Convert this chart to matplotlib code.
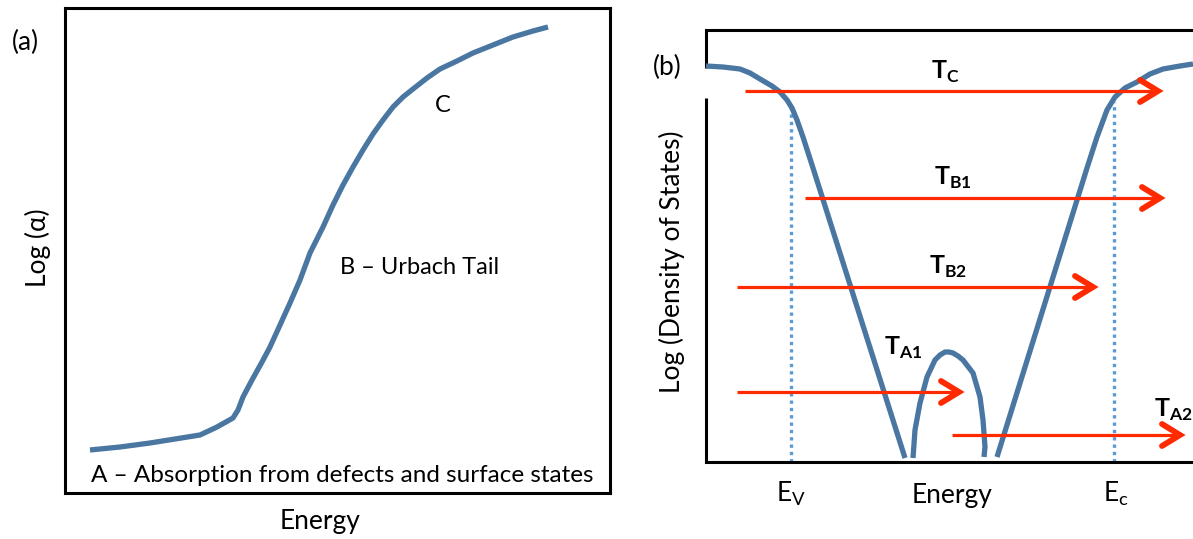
import numpy as np
import matplotlib.pyplot as plt

plt.rcParams['font.family'] = ['Lato', 'DejaVu Sans']
plt.rcParams['mathtext.fontset'] = 'custom'
plt.rcParams['mathtext.rm'] = 'Lato'
plt.rcParams['mathtext.bf'] = 'Lato:bold'

W, H = 1193, 539

# ---- panel (a): absorption edge, readings in axes pixel units
absorb_x = [25, 55, 85, 110, 135, 152, 168, 173, 178, 187, 197, 205, 215, 225, 235, 245,
            258, 268, 278, 288, 298, 308, 318, 328, 338, 348, 362, 375, 392, 408, 428, 448, 468, 483]
absorb_y = [43, 46, 50, 54, 58, 66, 75, 83, 96, 113, 131, 146, 168, 190, 213, 240,
            266, 288, 308, 326, 343, 359, 373, 386, 396, 404, 415, 424, 432, 440, 448, 456, 462, 466]

# ---- panel (b): density of states
val_x = [0, 17, 34, 44, 54, 66, 74, 81, 86, 91, 97, 107, 199]
val_y = [396, 395, 393, 389, 383, 376, 370, 362, 354, 342, 325, 294, 4]
defect_x = [207, 209, 214, 221, 229, 234, 239, 243, 247, 252, 257, 267, 274, 277, 279, 278]
defect_y = [4, 32, 59, 85, 102, 107, 110, 110, 109, 106, 102, 89, 65, 42, 15, 5]
cond_x = [291, 381, 391, 401, 409, 419, 431, 444, 457, 474, 487]
cond_y = [5, 294, 325, 352, 365, 374, 380, 388, 393, 396, 398]

Ev, Ec = 85, 408
Ev_top, Ec_top = 354, 360

# transitions
trans_names = ['C', 'B1', 'B2', 'A1', 'A2']
trans_start = [39, 99, 31, 31, 246]
trans_end = [452, 454, 387, 253, 474]
trans_level = [371, 264, 175, 70, 27]
label_x = [239, 247, 242, 197, 467]
label_y = [390, 284, 195, 114, 52]

blue = '#4a76a2'
dot_blue = '#5b9bd5'
red = '#ff2a00'

fig = plt.figure(figsize=(W / 100, H / 100), dpi=100)

def ftext(x, y, s, **kw):
    fig.text(x / W, 1 - y / H, s, ha='center', va='center', **kw)

# ===================== (a)
axA = fig.add_axes([65 / W, 46 / H, 545 / W, 485 / H])
axA.set_xlim(0, 545)
axA.set_ylim(0, 485)
axA.set_xticks([])
axA.set_yticks([])
for s in axA.spines.values():
    s.set_linewidth(2.2)
axA.plot(absorb_x, absorb_y, color=blue, lw=3.8, solid_capstyle='butt', solid_joinstyle='round')
axA.text(378, 388, 'C', ha='center', va='center', fontsize=17)
axA.text(355, 225, 'B \u2013 Urbach Tail', ha='center', va='center', fontsize=17)
axA.text(277, 17, 'A \u2013 Absorption from defects and surface states',
         ha='center', va='center', fontsize=17.5)

ftext(25, 42, '(a)', fontsize=19)
ftext(320, 521, 'Energy', fontsize=19)
ftext(38, 248, 'Log (\u03b1)', fontsize=19, rotation=90)

# ===================== (b)
axB = fig.add_axes([706 / W, 77 / H, 487 / W, 432 / H])
axB.set_xlim(0, 487)
axB.set_ylim(0, 432)
axB.set_xticks([])
axB.set_yticks([])
axB.spines['right'].set_visible(False)
axB.spines['left'].set_visible(False)
axB.spines['top'].set_linewidth(2.2)
axB.spines['bottom'].set_linewidth(2.2)
# left spine broken where the curve meets it
axB.plot([0, 0], [0, 364], color='black', lw=2.2, clip_on=False, solid_capstyle='butt')
axB.plot([0, 0], [394, 432], color='black', lw=2.2, clip_on=False, solid_capstyle='butt')

axB.plot([Ev, Ev], [0, Ev_top], color=dot_blue, lw=2.4, ls=(0, (1, 1.2)))
axB.plot([Ec, Ec], [0, Ec_top], color=dot_blue, lw=2.4, ls=(0, (1, 1.2)))

for xs, ys in [(val_x, val_y), (defect_x, defect_y), (cond_x, cond_y)]:
    axB.plot(xs, ys, color=blue, lw=3.8, solid_capstyle='butt',
             solid_joinstyle='round', clip_on=False)

for name, x0, x1, y, lx, ly in zip(trans_names, trans_start, trans_end,
                                    trans_level, label_x, label_y):
    axB.plot([x0, x1 - 3], [y, y], color=red, lw=2.3, solid_capstyle='butt', clip_on=False)
    axB.plot([x1 - 18, x1, x1 - 18], [y + 11, y, y - 11], color=red, lw=4.2,
             solid_capstyle='round', solid_joinstyle='miter', clip_on=False)
    axB.text(lx, ly, r'$\mathbf{T}_{\mathbf{%s}}$' % name, ha='center',
             va='center', fontsize=18)

ftext(667, 67, '(b)', fontsize=19)
ftext(952, 496, 'Energy', fontsize=19)
ftext(672, 262, 'Log (Density of States)', fontsize=19, rotation=90)
ftext(791, 494, r'E$_\mathrm{V}$', fontsize=19)
ftext(1116, 494, r'E$_\mathrm{c}$', fontsize=19)

fig.savefig('out.png', dpi=100)
